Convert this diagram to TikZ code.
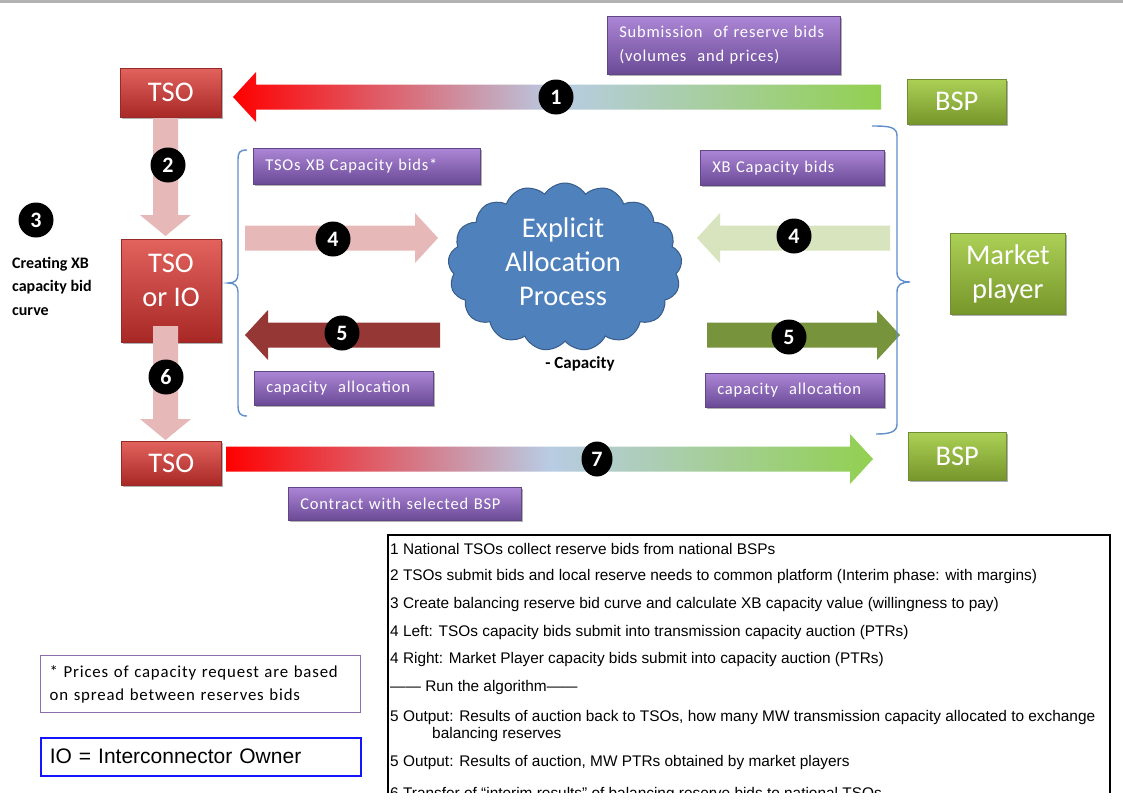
\documentclass[tikz,border=0pt]{standalone}
\usepackage{fontspec}
\setmainfont{Carlito}
\newfontfamily\calw[LetterSpace=5]{Carlito}
\newfontfamily\arialf{Liberation Sans}
\usetikzlibrary{shapes.symbols,shapes.geometric,shadows}

\definecolor{tsoTop}{RGB}{226,98,94}
\definecolor{tsoMid}{RGB}{200,62,60}
\definecolor{tsoBot}{RGB}{168,40,38}
\definecolor{tsoEdge}{RGB}{150,42,40}
\definecolor{bspTop}{RGB}{172,208,86}
\definecolor{bspMid}{RGB}{146,184,60}
\definecolor{bspBot}{RGB}{118,150,42}
\definecolor{bspEdge}{RGB}{112,140,52}
\definecolor{labTop}{RGB}{172,134,214}
\definecolor{labMid}{RGB}{128,92,174}
\definecolor{labBot}{RGB}{106,74,150}
\definecolor{labEdge}{RGB}{96,70,132}
\definecolor{cloudFill}{RGB}{79,129,189}
\definecolor{cloudEdge}{RGB}{56,93,138}
\definecolor{braceBlue}{RGB}{96,142,204}
\definecolor{pinkArr}{RGB}{230,185,184}
\definecolor{paleGreen}{RGB}{215,228,189}
\definecolor{darkRed}{RGB}{149,55,53}
\definecolor{oliveArr}{RGB}{119,147,60}
\definecolor{arrRed}{RGB}{255,0,0}
\definecolor{arrBlue}{RGB}{184,204,228}
\definecolor{arrGreen}{RGB}{146,208,80}
\definecolor{noteEdge}{RGB}{140,110,172}
\definecolor{ioEdge}{RGB}{20,20,255}

% red -> pale blue -> green along the bid and contract arrows
\pgfdeclarehorizontalshading{bidflow}{100bp}{color(0bp)=(arrRed); color(25bp)=(arrRed); color(50bp)=(arrBlue); color(75bp)=(arrGreen); color(100bp)=(arrGreen)}

% horizontal block arrow: style, tail x, tip x, centre y
\newcommand\harrow[4]{%
  \pgfmathsetmacro\arrbase{#3-((#3>#2)?23:-23)}%
  \path[#1] (#2,#4-12.5) -- (\arrbase,#4-12.5) -- (\arrbase,#4-25) -- (#3,#4)
    -- (\arrbase,#4+25) -- (\arrbase,#4+12.5) -- (#2,#4+12.5) -- cycle;}
% downward block arrow: style, centre x, tail y, tip y
\newcommand\varrow[4]{%
  \pgfmathsetmacro\arrbase{#4-21}%
  \path[#1] (#2-12.5,#3) -- (#2+12.5,#3) -- (#2+12.5,\arrbase) -- (#2+25.5,\arrbase)
    -- (#2,#4) -- (#2-25.5,\arrbase) -- (#2-12.5,\arrbase) -- cycle;}

\tikzset{
  softshadow/.style={drop shadow={shadow xshift=1.5pt, shadow yshift=-2pt, fill=black, opacity=.3}},
  tsobox/.style={rectangle, draw=tsoEdge, line width=.6pt, top color=tsoTop, middle color=tsoMid,
    bottom color=tsoBot, text=white, font=\fontsize{28.5}{34}\selectfont, align=center,
    inner sep=0pt, anchor=north west, softshadow},
  bspbox/.style={tsobox, draw=bspEdge, top color=bspTop, middle color=bspMid, bottom color=bspBot},
  lab/.style={rectangle, draw=labEdge, line width=.5pt, top color=labTop, middle color=labMid,
    bottom color=labBot, text=white, font=\calw\fontsize{16.5}{24}\selectfont, align=left,
    inner xsep=12pt, inner ysep=0pt, anchor=north west, softshadow},
  num/.style={circle, fill=black, text=white, font=\bfseries\fontsize{22}{22}\selectfont,
    minimum size=35pt, inner sep=0pt},
  brace/.style={draw=braceBlue, line width=1.4pt},
  pinkfill/.style={fill=pinkArr},
  flowfill/.style={shade, shading=bidflow},
  listline/.style={anchor=west, inner sep=0pt, font=\arialf\fontsize{15.4}{17}\selectfont}
}

\begin{document}
\begin{tikzpicture}[x=1pt,y=-1pt]
\useasboundingbox (0,0) rectangle (1123,803);
\clip (0,0) rectangle (1123,803);
\fill[white] (0,0) rectangle (1123,803);
\fill[black!30] (0,0) rectangle (1123,3);

% ---- actors ----
\node[tsobox, minimum width=101, minimum height=49] (tso1) at (120,68) {TSO};
\node[bspbox, minimum width=99, minimum height=45] (bsp1) at (907,79) {BSP};
\node[tsobox, minimum width=100, minimum height=103] (tsoio) at (121,239) {};
\node[text=white, font=\fontsize{28.5}{34}\selectfont, align=center] (tsoiotxt)
  at (171,280) {TSO\\or IO};
\node[tsobox, minimum width=100, minimum height=44] (tso2) at (121,441) {TSO};
\node[bspbox, minimum width=98, minimum height=48] (bsp2) at (908,432) {BSP};
\node[bspbox, minimum width=115, minimum height=81] (mp) at (950,233) {Market\\player};

% ---- allocation platform ----
\node[cloud, cloud puffs=17, cloud puff arc=115, aspect=1.45, fill=cloudFill, draw=cloudEdge,
  line width=1pt, minimum width=234, minimum height=168] (cloud) at (565,267) {};
\node[text=white, font=\fontsize{28.5}{34}\selectfont, align=center] (cloudtxt) at (563,262)
  {Explicit\\Allocation\\Process};
\node[font=\bfseries\fontsize{17}{17}\selectfont] (cap) at (580,364) {- Capacity};

% ---- flow arrows ----
\harrow{flowfill}{881}{233}{97}
\varrow{pinkfill}{165.5}{118}{236}
\harrow{pinkfill}{245}{438}{238}
\harrow{fill=paleGreen}{890}{697}{238}
\harrow{fill=darkRed}{440}{245}{335}
\harrow{fill=oliveArr}{707}{900}{335}
\varrow{pinkfill}{165.5}{326}{440}
\harrow{flowfill}{226}{873}{459}

% ---- step numbers ----
\node[num] (n1) at (556,97) {1};
\node[num] (n2) at (168,165) {2};
\node[num] (n3) at (36,220) {3};
\node[num] (n4l) at (333,239) {4};
\node[num] (n4r) at (794,236) {4};
\node[num] (n5l) at (342,333) {5};
\node[num] (n5r) at (789,337) {5};
\node[num] (n6) at (166,377) {6};
\node[num, ellipse, minimum width=31pt, minimum height=35pt] (n7) at (597,459) {7};

\node[anchor=north west, inner sep=0pt, font=\bfseries\fontsize{16}{23.5}\selectfont, align=left]
  (n3txt) at (12,257) {Creating XB\\capacity bid\\curve};

% ---- labels ----
\node[lab, text width=209, minimum height=58] (sublab) at (607,16)
  {Submission\ \ of reserve bids\\(volumes\ \ and prices)};
\node[lab, text width=203, minimum height=36] (tsobids) at (253,148) {TSOs XB Capacity bids*};
\node[lab, text width=160, minimum height=35] (mpbids) at (700,150) {XB Capacity bids};
\node[lab, text width=155, minimum height=34] (allocl) at (254,371) {capacity\ \ allocation};
\node[lab, text width=155, minimum height=34] (allocr) at (705,373) {capacity\ \ allocation};
\node[lab, text width=209, minimum height=33] (contract) at (288,487) {Contract with selected BSP};

% ---- braces ----
\draw[brace] (247,150) .. controls (240,150) and (238,152) .. (238,160) -- (238,274)
  .. controls (238,280) and (235,283) .. (228,283) .. controls (235,283) and (238,286) .. (238,292)
  -- (238,406) .. controls (238,413) and (240,416) .. (247,416);
\draw[brace] (872,126) .. controls (890,126) and (897,127) .. (897,136) -- (897,272)
  .. controls (897,279) and (901,282) .. (910,282) .. controls (901,282) and (897,285) .. (897,292)
  -- (897,424) .. controls (897,432) and (890,434) .. (876,434);

% ---- notes ----
\node[draw=noteEdge, line width=1.3pt, anchor=north west, minimum width=320, minimum height=57,
  inner xsep=9pt, text width=302, align=left, font=\calw\fontsize{16.8}{23}\selectfont] (note) at (40,655)
  {* Prices of capacity request are based\\on spread between reserves bids};
\node[draw=ioEdge, line width=1.5pt, anchor=north west, minimum width=320, minimum height=38,
  inner xsep=9pt, text width=302, align=left, font=\arialf\fontsize{21}{22}\selectfont] (io) at (40,737)
  {IO = Interconnector Owner};

% ---- step list (the page ends part-way through its last line) ----
\begin{scope}
\clip (0,0) rectangle (1123,792);
\draw[line width=1.4pt] (388,830) -- (388,535) -- (1110,535) -- (1110,830);
\node[listline] (s1) at (390,549) {1 National TSOs collect reserve bids from national BSPs};
\node[listline] (s2) at (390,577) {2 TSOs submit bids and local reserve needs to common platform (Interim phase: with margins)};
\node[listline] (s3) at (390,605) {3 Create balancing reserve bid curve and calculate XB capacity value (willingness to pay)};
\node[listline] (s4) at (390,633) {4 Left: TSOs capacity bids submit into transmission capacity auction (PTRs)};
\node[listline] (s5) at (390,660) {4 Right: Market Player capacity bids submit into capacity auction (PTRs)};
\node[listline] (s6) at (390,688) {—— Run the algorithm——};
\node[listline] (s7) at (390,718) {5 Output: Results of auction back to TSOs, how many MW transmission capacity allocated to exchange};
\node[listline] (s7b) at (432,735) {balancing reserves};
\node[listline] (s8) at (390,763) {5 Output: Results of auction, MW PTRs obtained by market players};
\node[listline] (s9) at (390,795) {6 Transfer of “interim results” of balancing reserve bids to national TSOs};
\end{scope}
\end{tikzpicture}
\end{document}
